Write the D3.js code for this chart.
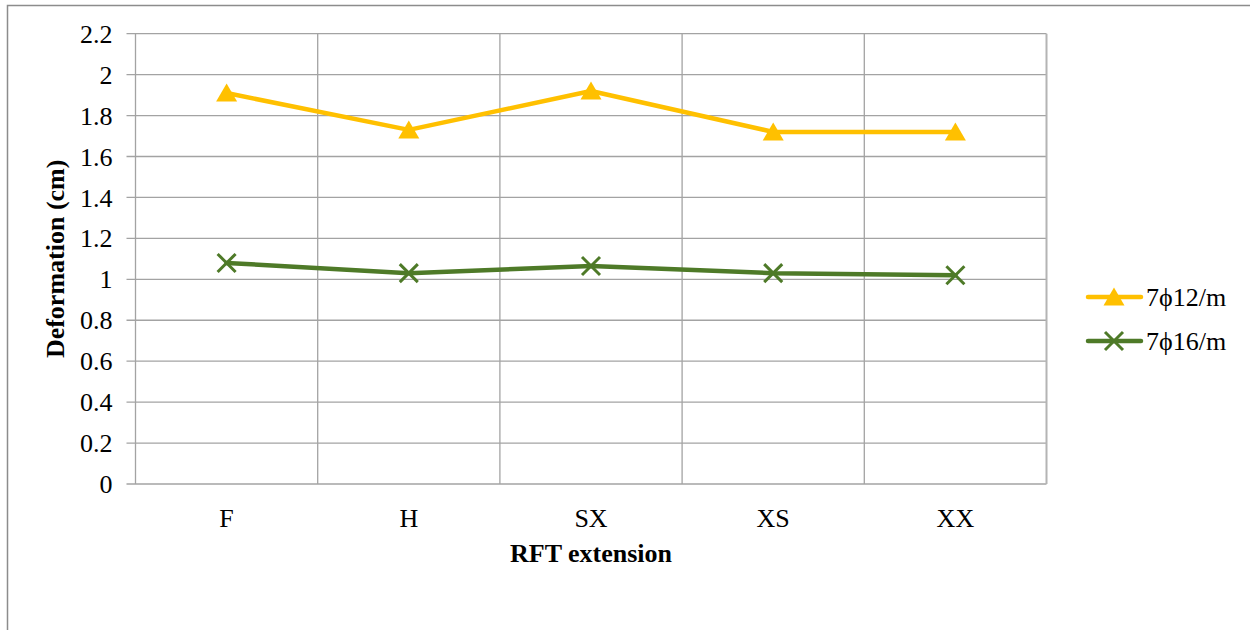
<!DOCTYPE html>
<html>
<head>
<meta charset="utf-8">
<script src="https://cdn.jsdelivr.net/npm/d3@7"></script>
<style>
  html, body { margin: 0; padding: 0; background: #ffffff; }
  svg { display: block; }
  text { font-family: "Liberation Serif", "Times New Roman", serif; fill: #000; }
</style>
</head>
<body>
<svg id="chart" width="1250" height="630"></svg>
<script>
// Deformation per RFT extension for two reinforcement layouts
const categories = ["F", "H", "SX", "XS", "XX"];
const seriesNames = ["7ϕ12/m", "7ϕ16/m"];
const valuesPhi12 = [1.91, 1.73, 1.92, 1.72, 1.72];
const valuesPhi16 = [1.08, 1.03, 1.065, 1.03, 1.02];
const yTicks = [0, 0.2, 0.4, 0.6, 0.8, 1, 1.2, 1.4, 1.6, 1.8, 2, 2.2];

const series = [
  { name: seriesNames[0], values: valuesPhi12, color: "#FFC000", marker: "triangle" },
  { name: seriesNames[1], values: valuesPhi16, color: "#4E7A28", marker: "cross" }
];

const FONT = 26;
const svg = d3.select("#chart");
const plot = { left: 135.5, right: 1046.5, top: 33.7, bottom: 484 };

// outer frame
svg.append("rect")
  .attr("x", 7.5).attr("y", 5.5)
  .attr("width", 1400).attr("height", 800)
  .attr("fill", "none").attr("stroke", "#8c8c8c").attr("stroke-width", 1.5);

const x = d3.scaleBand().domain(categories).range([plot.left, plot.right]);
const y = d3.scaleLinear().domain([0, 2.2]).range([plot.bottom, plot.top]);

// horizontal gridlines
svg.append("g").selectAll("line").data(yTicks).join("line")
  .attr("x1", plot.left - 9).attr("x2", plot.right)
  .attr("y1", d => y(d)).attr("y2", d => y(d))
  .attr("stroke", "#a3a3a3").attr("stroke-width", 1.3);

// vertical gridlines at category boundaries
const bounds = categories.map(c => x(c)).concat([plot.right]);
svg.append("g").selectAll("line").data(bounds).join("line")
  .attr("x1", d => d).attr("x2", d => d)
  .attr("y1", plot.top).attr("y2", plot.bottom)
  .attr("stroke", (d, i) => i === bounds.length - 1 ? "#b4b4b4" : "#a3a3a3")
  .attr("stroke-width", (d, i) => i === bounds.length - 1 ? 2 : 1.3);

// y axis labels
const yAxis = d3.axisLeft(y).tickValues(yTicks).tickSize(0).tickPadding(0)
  .tickFormat(d => d3.format("~g")(d));
const gy = svg.append("g").attr("transform", `translate(${plot.left - 23},0)`).call(yAxis);
gy.select(".domain").remove();
gy.selectAll("text")
  .attr("font-family", "Liberation Serif").attr("font-size", FONT).attr("fill", "#000")
  .attr("dy", "0.33em");

// x axis labels
const xAxis = d3.axisBottom(x).tickSize(0).tickPadding(0);
const gx = svg.append("g").attr("transform", `translate(0,${plot.bottom})`).call(xAxis);
gx.select(".domain").remove();
gx.selectAll("text")
  .attr("font-family", "Liberation Serif").attr("font-size", FONT).attr("fill", "#000")
  .attr("y", 0).attr("dy", 43);

// axis titles
svg.append("text")
  .attr("x", (plot.left + plot.right) / 2).attr("y", 562)
  .attr("text-anchor", "middle").attr("font-size", FONT).attr("font-weight", "bold")
  .text("RFT extension");
svg.append("text")
  .attr("transform", `translate(64,${(plot.top + plot.bottom) / 2}) rotate(-90)`)
  .attr("text-anchor", "middle").attr("font-size", FONT).attr("font-weight", "bold")
  .text("Deformation (cm)");

// marker shapes
const triPath = "M0,-9.5 L10.5,8.5 L-10.5,8.5 Z";
const crossPath = "M-9,-9 L9,9 M-9,9 L9,-9";
function drawMarker(g, kind, color) {
  if (kind === "triangle") {
    g.append("path").attr("d", triPath).attr("fill", color);
  } else {
    g.append("path").attr("d", crossPath).attr("fill", "none")
      .attr("stroke", color).attr("stroke-width", 3);
  }
}

const line = d3.line()
  .x((d, i) => x(categories[i]) + x.bandwidth() / 2)
  .y(d => y(d));

series.forEach(s => {
  svg.append("path").datum(s.values)
    .attr("d", line).attr("fill", "none")
    .attr("stroke", s.color).attr("stroke-width", 4.5)
    .attr("stroke-linejoin", "round").attr("stroke-linecap", "round");
  s.values.forEach((v, i) => {
    const g = svg.append("g")
      .attr("transform", `translate(${x(categories[i]) + x.bandwidth() / 2},${y(v)})`);
    drawMarker(g, s.marker, s.color);
  });
});

// legend
const legend = svg.append("g");
series.forEach((s, i) => {
  const ly = 297 + i * 44;
  legend.append("line")
    .attr("x1", 1088).attr("x2", 1141).attr("y1", ly).attr("y2", ly)
    .attr("stroke", s.color).attr("stroke-width", 4.5).attr("stroke-linecap", "round");
  const g = legend.append("g").attr("transform", `translate(1114,${ly})`);
  drawMarker(g, s.marker, s.color);
  legend.append("text")
    .attr("x", 1146).attr("y", ly).attr("dy", "0.33em")
    .attr("font-size", FONT).text(s.name);
});
</script>
</body>
</html>
